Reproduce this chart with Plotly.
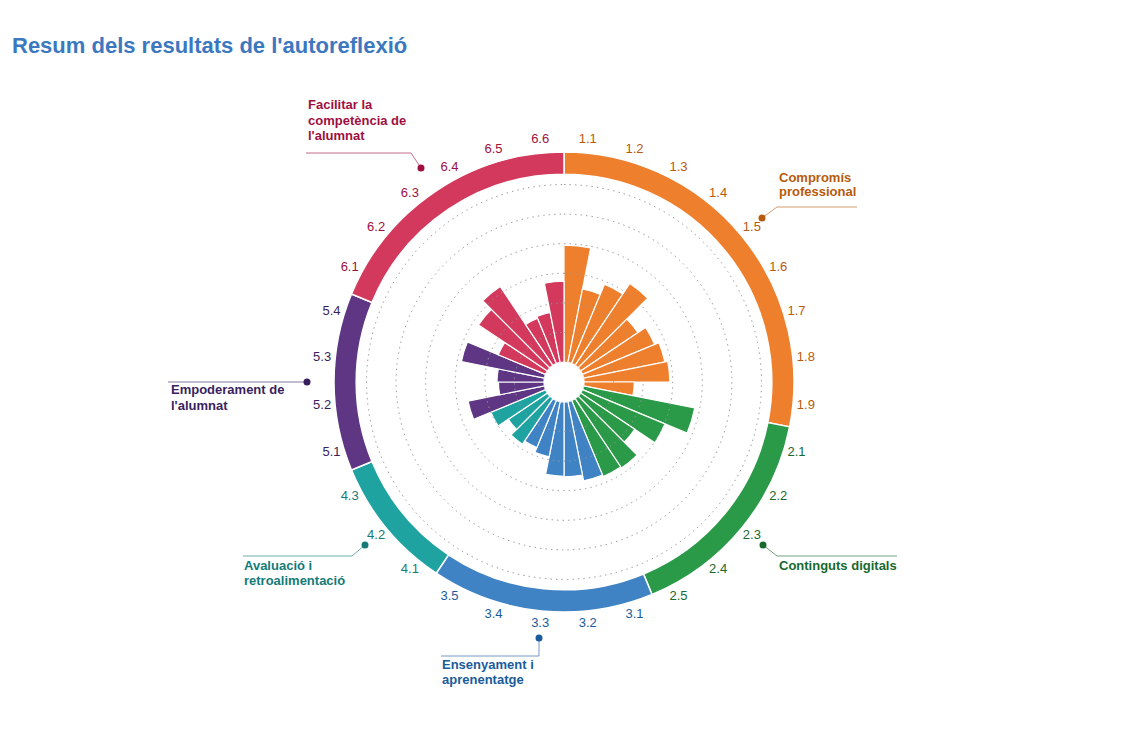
import numpy as np
import plotly.graph_objects as go

W, H = 1128, 754
OX, OY = 8, 8  # page body margin offset

# ---------------- data ----------------
codes = ["1.1", "1.2", "1.3", "1.4", "1.5", "1.6", "1.7", "1.8", "1.9",
         "2.1", "2.2", "2.3", "2.4", "2.5",
         "3.1", "3.2", "3.3", "3.4", "3.5",
         "4.1", "4.2", "4.3",
         "5.1", "5.2", "5.3", "5.4",
         "6.1", "6.2", "6.3", "6.4", "6.5", "6.6"]
values = [3.95, 2.53, 2.90, 3.33, 2.33, 2.64, 2.80, 2.90, 1.70,
          3.83, 3.02, 2.20, 2.82, 2.78,
          2.73, 2.53, 2.51, 1.90, 1.72,
          1.86, 1.59, 2.00,
          2.63, 1.54, 1.59, 2.86,
          1.73, 2.80, 3.21, 1.66, 1.72, 2.73]
group_names = ["Compromís professional", "Continguts digitals",
               "Ensenyament i aprenentatge", "Avaluació i retroalimentació",
               "Empoderament de l'alumnat",
               "Facilitar la competència de l'alumnat"]
group_label_lines = [["Compromís", "professional"], ["Continguts digitals"],
                     ["Ensenyament i", "aprenentatge"], ["Avaluació i", "retroalimentació"],
                     ["Empoderament de", "l'alumnat"],
                     ["Facilitar la", "competència de", "l'alumnat"]]
bar_colors = ["#EE7F2D", "#2B9A48", "#3F83C5", "#1EA3A0", "#5E3683", "#D3395C"]
text_colors = ["#B85A0C", "#17692F", "#1A5B9C", "#157A78", "#3A1F5E", "#9E0F3F"]
grid_levels = [1, 2, 3, 4, 5, 6]

# ---------------- derived ----------------
N = len(codes)
step = 360.0 / N
theta = [(i + 0.5) * step for i in range(N)]
gidx = [int(c.split(".")[0]) - 1 for c in codes]
colors = [bar_colors[g] for g in gidx]

RING_BASE = 6.35
RING_TOP = 7.1
R_LABEL = 7.54
R_AX = 7.9
HOLE_PX = 20.0
UNIT_PX = 210.0 / RING_TOP
RAD_PX = HOLE_PX + R_AX * UNIT_PX
FONT = "Liberation Sans, Arial, sans-serif"

fig = go.Figure()

# bars
fig.add_trace(go.Barpolar(
    r=values, theta=theta, width=[step] * N,
    marker=dict(color=colors, line=dict(color="white", width=1.2)),
    hoverinfo="text", text=[f"{c}: {v}" for c, v in zip(codes, values)],
    showlegend=False))

# outer ring by group
g_start, g_span = [], []
for g in range(len(group_names)):
    idx = [i for i in range(N) if gidx[i] == g]
    g_start.append(idx[0] * step)
    g_span.append(len(idx) * step)
ring_theta = [s + w / 2 for s, w in zip(g_start, g_span)]
fig.add_trace(go.Barpolar(
    r=[RING_TOP - RING_BASE] * len(group_names), base=[RING_BASE] * len(group_names),
    theta=ring_theta, width=g_span,
    marker=dict(color=bar_colors, line=dict(color="white", width=1.5)),
    hoverinfo="text", text=group_names, showlegend=False))

# dotted grid circles drawn above the bars
circ = np.linspace(0, 360, 721)
for lv in grid_levels:
    fig.add_trace(go.Scatterpolar(
        r=[lv] * len(circ), theta=circ, mode="lines",
        line=dict(color="#9a9a9a", width=1, dash="1.5px,4px"),
        hoverinfo="skip", showlegend=False))

# category labels, centred on each bar's angle just outside the ring
fig.add_trace(go.Scatterpolar(
    r=[R_LABEL] * N, theta=theta, mode="text", text=codes,
    textposition="middle center", cliponaxis=False,
    textfont=dict(family=FONT, size=13, color=[text_colors[g] for g in gidx]),
    hoverinfo="skip", showlegend=False))

cx, cy = 564 - OX, 382 - OY
fig.update_layout(
    width=W, height=H,
    margin=dict(l=0, r=0, t=0, b=0),
    paper_bgcolor="white", plot_bgcolor="white",
    font=dict(family=FONT, size=12, color="#444"),
    polar=dict(
        domain=dict(x=[(cx - RAD_PX) / W, (cx + RAD_PX) / W],
                    y=[1 - (cy + RAD_PX) / H, 1 - (cy - RAD_PX) / H]),
        hole=HOLE_PX / RAD_PX,
        bgcolor="white",
        barmode="overlay",
        radialaxis=dict(visible=False, range=[0, R_AX]),
        angularaxis=dict(
            rotation=90, direction="clockwise", thetaunit="degrees",
            showticklabels=False, showgrid=False, showline=False, ticks=""),
    ),
)


def P(x, y):
    return (x - OX) / W, 1 - (y - OY) / H


# title
tx0, ty0 = P(10, 45)
fig.add_annotation(
    text="<b>Resum dels resultats de l'autoreflexió</b>",
    xref="paper", yref="paper", x=tx0, y=ty0,
    xanchor="left", yanchor="middle", showarrow=False,
    font=dict(family=FONT, size=22, color="#3B78BF"))

# callouts: (dot, polyline points, text left x, first line centre y)
LINE_STEP = 15
callouts = [
    ((762, 218), [(762, 218), (777, 207), (857, 207)], 777, 177),
    ((763, 545), [(763, 545), (777, 556), (897, 556)], 777, 565),
    ((539, 638), [(539, 638), (539, 656), (441, 656)], 440, 664),
    ((365, 545), [(365, 545), (352, 556), (243, 556)], 242, 565),
    ((307, 382), [(307, 382), (168, 382)], 169, 390),
    ((421, 168), [(421, 168), (411, 153), (306, 153)], 306, 105),
]
shapes = []
for g, (dot, pts, tx_px, ty_px) in enumerate(callouts):
    path = "M " + " L ".join(f"{P(*p)[0]:.5f},{P(*p)[1]:.5f}" for p in pts)
    shapes.append(dict(type="path", xref="paper", yref="paper", path=path,
                       line=dict(color=text_colors[g], width=1), opacity=0.6))
    dx, dy = P(*dot)
    r = 3.5
    shapes.append(dict(type="circle", xref="paper", yref="paper",
                       x0=dx - r / W, x1=dx + r / W, y0=dy - r / H, y1=dy + r / H,
                       fillcolor=text_colors[g], line=dict(width=0)))
    for k, line in enumerate(group_label_lines[g]):
        tx, ty = P(tx_px, ty_px + k * LINE_STEP)
        fig.add_annotation(
            text=f"<b>{line}</b>", xref="paper", yref="paper",
            x=tx, y=ty, xanchor="left", yanchor="middle", showarrow=False,
            font=dict(family=FONT, size=13, color=text_colors[g]))

fig.update_layout(shapes=shapes)
fig.write_html("out.html")
